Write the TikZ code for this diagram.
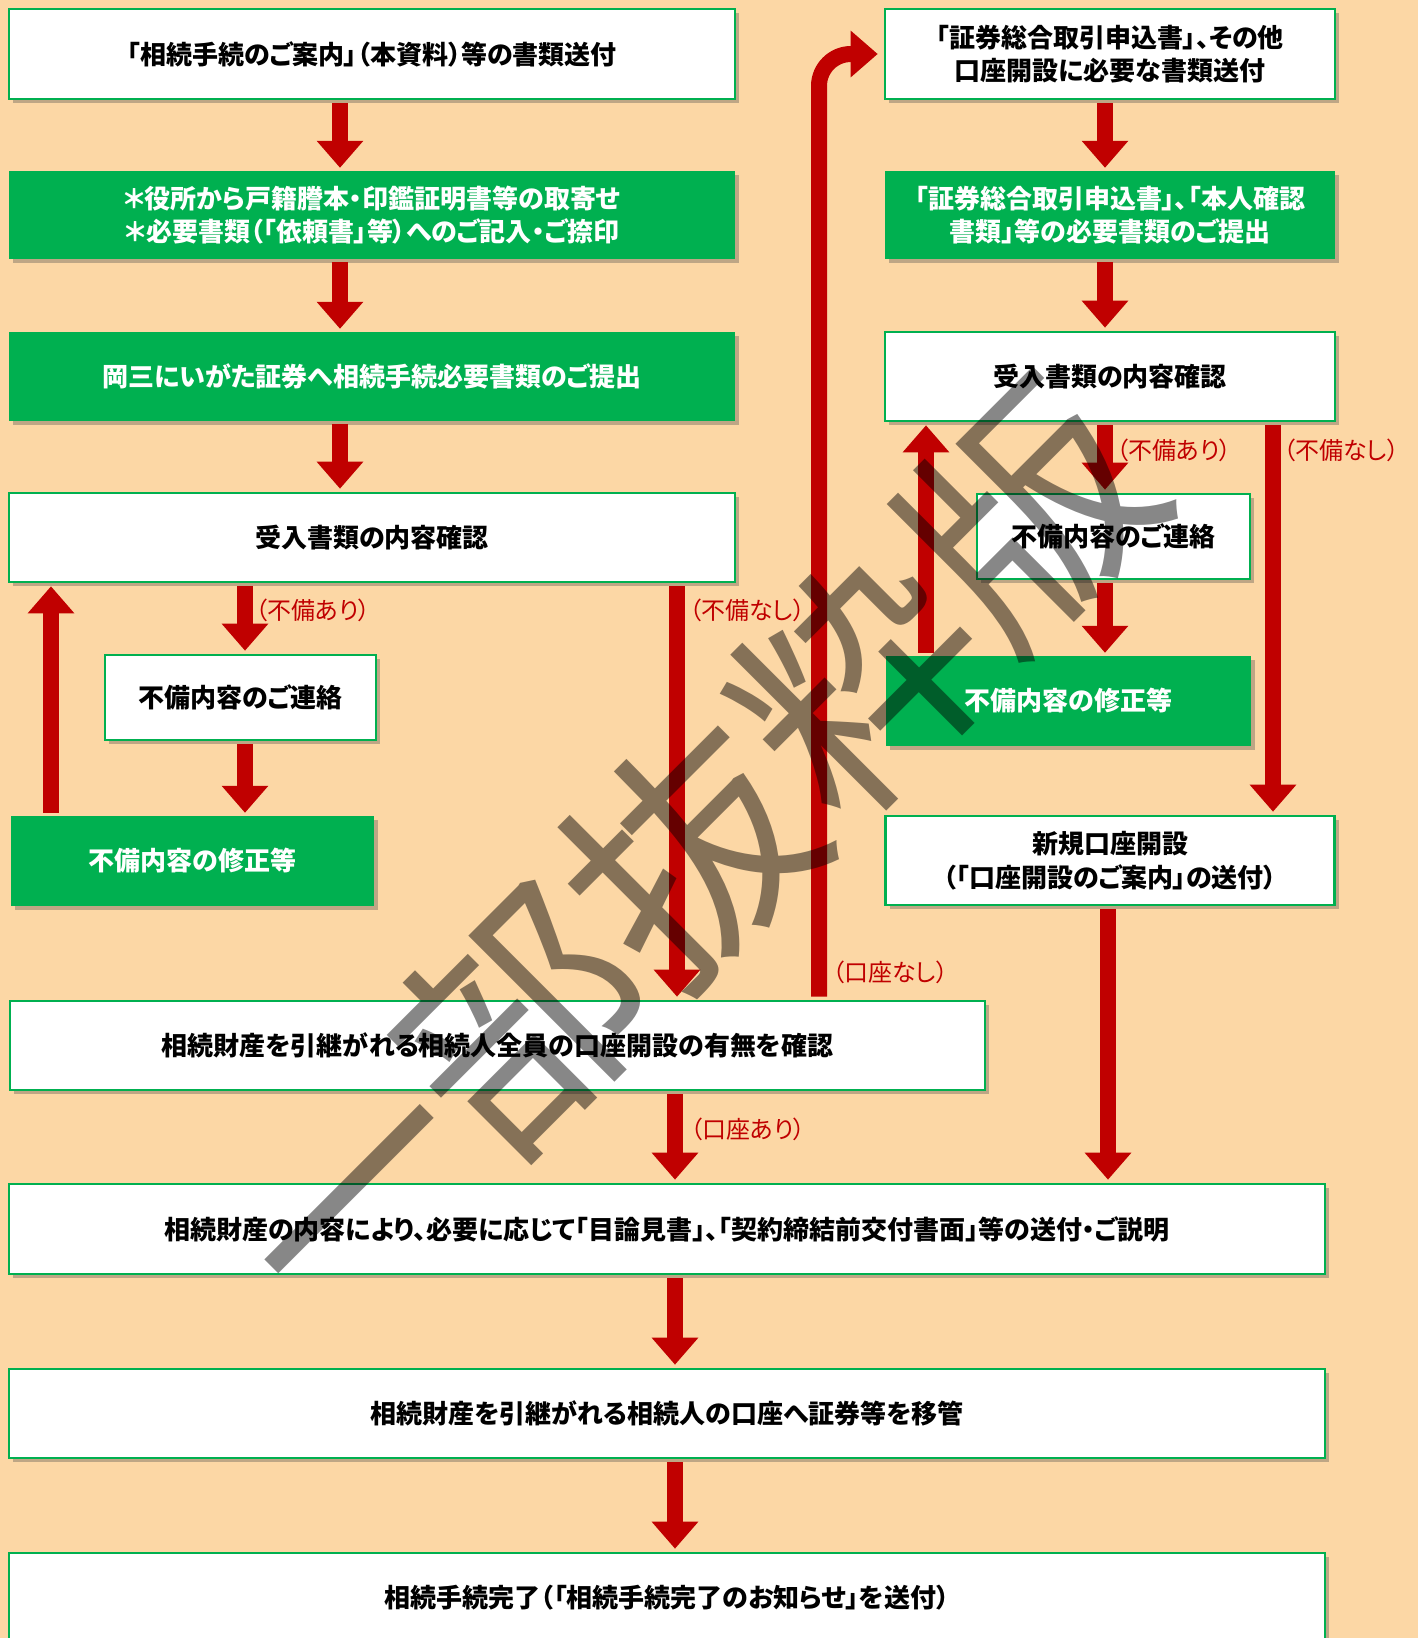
\documentclass[tikz,border=0pt]{standalone}
\usepackage{fontspec}
\setmainfont{Noto Sans CJK JP}[RawFeature=+palt]
\newfontfamily\wmfont{Noto Sans CJK JP}
\usetikzlibrary{arrows.meta,shadows}
\definecolor{bgpeach}{RGB}{252,215,165}
\definecolor{boxgreen}{RGB}{0,176,80}
\definecolor{arrred}{RGB}{192,0,0}
\begin{document}
\begin{tikzpicture}[x=1pt,y=-1pt,
  shad/.style={drop shadow={shadow xshift=4pt,shadow yshift=-4pt,opacity=0.35,fill=black!70}},
  wbox/.style={shape=rectangle,draw=boxgreen,line width=2.6pt,fill=white,shad,
    text=black,font=\bfseries\fontsize{26}{33.5}\selectfont,align=center,inner sep=0pt},
  gbox/.style={shape=rectangle,fill=boxgreen,shad,
    text=white,font=\bfseries\fontsize{26}{33.5}\selectfont,align=center,inner sep=0pt},
  arr/.style={draw=arrred,line width=16pt,-{Triangle[width=45pt,length=27pt]},
    shorten <=3pt,shorten >=3pt},
  lbl/.style={text=arrred,font=\fontsize{24}{28}\selectfont,anchor=west,inner sep=0pt}]
\useasboundingbox (0,0) rectangle (1418,1638);
\fill[bgpeach] (0,0) rectangle (1418,1638);

% left column
\node[wbox,minimum width=726pt,minimum height=90pt] (b1) at (372,54) {「相続手続のご案内」（本資料）等の書類送付};
\node[gbox,minimum width=726pt,minimum height=88pt] (b2) at (372,215) {＊役所から戸籍謄本・印鑑証明書等の取寄せ\\＊必要書類（「依頼書」等）へのご記入・ご捺印};
\node[gbox,minimum width=726pt,minimum height=89pt] (b3) at (372,376.5) {岡三にいがた証券へ相続手続必要書類のご提出};
\node[wbox,minimum width=726pt,minimum height=89pt] (b4) at (372,537.5) {受入書類の内容確認};
\node[wbox,minimum width=271pt,minimum height=85pt] (b5) at (240.5,697.5) {不備内容のご連絡};
\node[gbox,minimum width=363pt,minimum height=90pt] (b6) at (192.5,861) {不備内容の修正等};
\node[wbox,minimum width=975pt,minimum height=89pt] (b7) at (497.5,1045.5) {相続財産を引継がれる相続人全員の口座開設の有無を確認};
\node[wbox,minimum width=1316pt,minimum height=90pt] (b8) at (667,1229) {相続財産の内容により、必要に応じて「目論見書」、「契約締結前交付書面」等の送付・ご説明};
\node[wbox,minimum width=1316pt,minimum height=89pt] (b9) at (667,1413.5) {相続財産を引継がれる相続人の口座へ証券等を移管};
\node[wbox,minimum width=1316pt,minimum height=90pt] (b10) at (667,1598) {相続手続完了（「相続手続完了のお知らせ」を送付）};

% right column
\node[wbox,minimum width=450pt,minimum height=90pt] (r1) at (1110,54) {「証券総合取引申込書」、その他\\口座開設に必要な書類送付};
\node[gbox,minimum width=450pt,minimum height=88pt] (r2) at (1110,215) {「証券総合取引申込書」、「本人確認\\書類」等の必要書類のご提出};
\node[wbox,minimum width=450pt,minimum height=89pt] (r3) at (1110,376.5) {受入書類の内容確認};
\node[wbox,minimum width=273pt,minimum height=85pt] (r4) at (1113.5,536.5) {不備内容のご連絡};
\node[gbox,minimum width=365pt,minimum height=90pt] (r5) at (1068.5,701) {不備内容の修正等};
\node[wbox,minimum width=449pt,minimum height=89pt] (r6) at (1110,860.5) {新規口座開設\\（「口座開設のご案内」の送付）};

% x positions of the connectors
\coordinate (cA) at (340,0);
\coordinate (cB) at (245,0);
\coordinate (cC) at (51,0);
\coordinate (cD) at (677,0);
\coordinate (cE) at (819,0);
\coordinate (cF) at (675,0);
\coordinate (cG) at (1105,0);
\coordinate (cH) at (926,0);
\coordinate (cI) at (1273,0);
\coordinate (cJ) at (1108,0);

% left connectors
\draw[arr] (b1.south -| cA) -- (b2.north -| cA);
\draw[arr] (b2.south -| cA) -- (b3.north -| cA);
\draw[arr] (b3.south -| cA) -- (b4.north -| cA);
\draw[arr] (b4.south -| cB) -- (b5.north -| cB);
\draw[arr] (b5.south -| cB) -- (b6.north -| cB);
\draw[arr] (b6.north -| cC) -- (b4.south -| cC);
\draw[arr] (b4.south -| cD) -- (b7.north -| cD);
\draw[arr,rounded corners=32pt,shorten >=6pt] (b7.north -| cE) |- (r1.west);
\draw[arr] (b7.south -| cF) -- (b8.north -| cF);
\draw[arr] (b8.south -| cF) -- (b9.north -| cF);
\draw[arr] (b9.south -| cF) -- (b10.north -| cF);

% right connectors
\draw[arr] (r1.south -| cG) -- (r2.north -| cG);
\draw[arr] (r2.south -| cG) -- (r3.north -| cG);
\draw[arr] (r3.south -| cG) -- (r4.north -| cG);
\draw[arr] (r4.south -| cG) -- (r5.north -| cG);
\draw[arr] (r5.north -| cH) -- (r3.south -| cH);
\draw[arr] (r3.south -| cI) -- (r6.north -| cI);
\draw[arr] (r6.south -| cJ) -- (b8.north -| cJ);

% labels
\node[lbl] (l1) at (255,610) {（不備あり）};
\node[lbl] (l2) at (689,610) {（不備なし）};
\node[lbl] (l3) at (832,972) {（口座なし）};
\node[lbl] (l4) at (690,1129) {（口座あり）};
\node[lbl] (l5) at (1116,450) {（不備あり）};
\node[lbl] (l6) at (1283,450) {（不備なし）};

% watermark
\node[rotate=45,text=black,opacity=0.47,inner sep=0pt,
  font=\wmfont\fontsize{240}{240}\selectfont] (wm) at (690,852) {一部抜粋版};
\end{tikzpicture}
\end{document}
